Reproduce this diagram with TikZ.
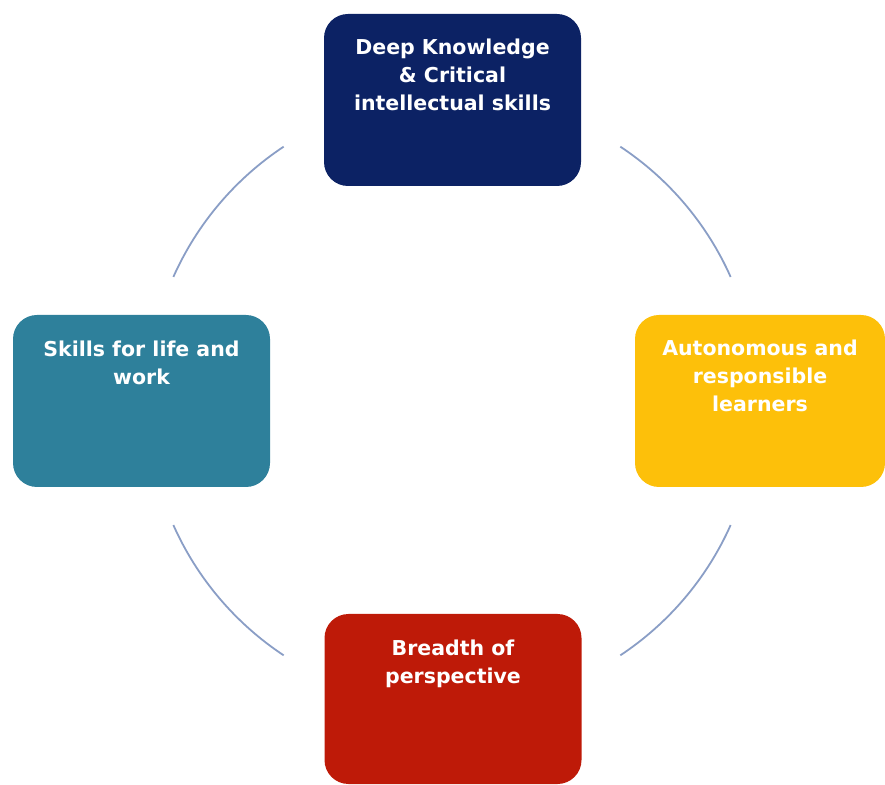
\documentclass[tikz,border=0pt]{standalone}
\usepackage{fontspec}
\setmainfont{DejaVu Sans}
\definecolor{deepnavy}{RGB}{12,34,100}
\definecolor{lifeteal}{RGB}{46,128,155}
\definecolor{autoamber}{RGB}{253,192,10}
\definecolor{breadthred}{RGB}{190,26,8}
\definecolor{ringblue}{RGB}{138,158,198}

\begin{document}
\begin{tikzpicture}[x=1pt, y=1pt,
    card/.style={rounded corners=24pt, minimum width=257pt, minimum height=172pt, inner sep=0pt},
    cardtext/.style={anchor=north, align=center, text=white, inner sep=0pt,
        font=\fontsize{20.5}{28}\selectfont\bfseries},
    ring/.style={draw=ringblue, line width=1.8pt}]
    \useasboundingbox (0,0) rectangle (885,784);
    \coordinate (hub) at (452,383);
    % the four boxes
    \node[card, fill=deepnavy] (deep) at (452.5,684) {};
    \node[card, fill=lifeteal] (life) at (141.5,383) {};
    \node[card, fill=autoamber, minimum width=250pt] (auto) at (760,383) {};
    \node[card, fill=breadthred, minimum height=170pt] (breadth) at (453,85) {};
    % their texts, near the top
    \node[cardtext] (deeptext) at ([yshift=-25pt]deep.north) {Deep Knowledge\\\& Critical\\intellectual skills};
    \node[cardtext] (lifetext) at ([yshift=-26pt]life.north) {Skills for life and\\work};
    \node[cardtext] (autotext) at ([yshift=-25pt]auto.north) {Autonomous and\\responsible\\learners};
    \node[cardtext] (breadthtext) at ([yshift=-26pt]breadth.north) {Breadth of\\perspective};
    % ring pieces between the boxes
    \foreach \s/\e in {24/56.5, 123.5/156, 204/236.5, 303.5/336}
        \draw[ring] ([shift={(\s:305)}]hub) arc[start angle=\s, end angle=\e, radius=305];
\end{tikzpicture}
\end{document}
